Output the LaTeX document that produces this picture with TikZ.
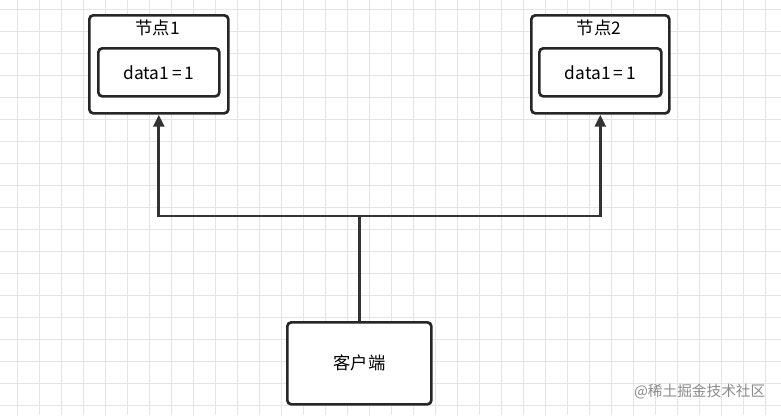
\documentclass[tikz,border=0pt]{standalone}
\usepackage{fontspec}
\setmainfont{Noto Sans CJK SC}
\usetikzlibrary{arrows.meta}
\begin{document}
\begin{tikzpicture}[x=0.75pt,y=-0.75pt,
  box/.style={draw=black!85,line width=2pt,rounded corners=3pt,fill=white},
  conn/.style={draw=black!80,line width=2.2pt},
  arr/.style={conn,-{Triangle[length=9pt,width=8pt]}},
  lbl/.style={font=\fontsize{13pt}{15pt}\selectfont}]
\useasboundingbox (0,0) rectangle (781,415);
\fill[white] (0,0) rectangle (781,415);
\foreach \x in {17,39,...,781} \draw[black!10,line width=0.6pt] (\x,0) -- (\x,415);
\foreach \y in {9,31,...,415} \draw[black!10,line width=0.6pt] (0,\y) -- (781,\y);
\node[box,minimum width=104.25pt,minimum height=73.5pt,anchor=north west] (n1) at (88,14) {};
\node[box,lbl,minimum width=90.75pt,minimum height=36pt,anchor=north west] (d1) at (97,47) {data1\,=\,1};
\node[anchor=center,inner sep=0pt,lbl] (t1) at (157.5,28) {节点1};
\node[box,minimum width=103.5pt,minimum height=73.5pt,anchor=north west] (n2) at (530,14) {};
\node[box,lbl,minimum width=91.5pt,minimum height=36pt,anchor=north west] (d2) at (538,47) {data1\,=\,1};
\node[anchor=center,inner sep=0pt,lbl] (t2) at (599,28) {节点2};
\node[box,lbl,minimum width=108pt,minimum height=61.5pt,anchor=north west] (c) at (286,321) {客户端};
\coordinate (j) at (358,216);
\draw[conn] (c.north) -- (c.north |- j);
\draw[arr] (c.north |- j) -| (n1.south);
\draw[arr] (c.north |- j) -| (n2.south);
\node[anchor=east,text=black!45,font=\fontsize{11pt}{13pt}\selectfont] (wm) at (770,392) {@稀土掘金技术社区};
\end{tikzpicture}
\end{document}
